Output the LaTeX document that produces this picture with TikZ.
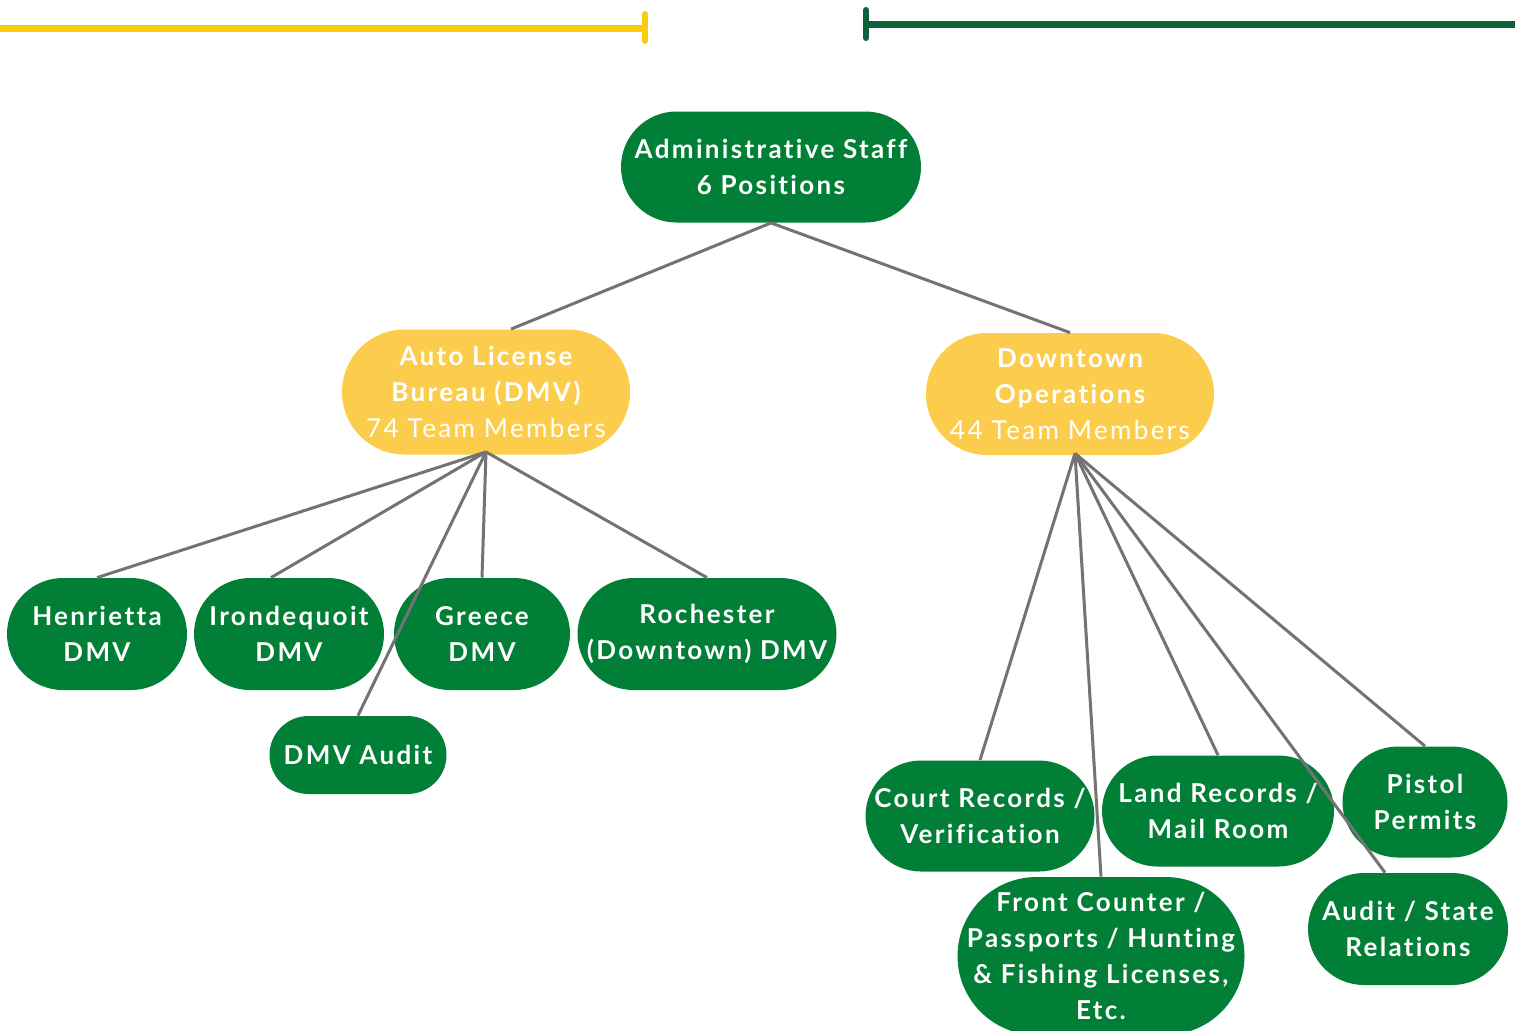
\documentclass[tikz,border=0pt]{standalone}
\usepackage{fontspec}
\setmainfont{Lato}[LetterSpace=9,Ligatures=NoCommon]
\usepackage{tikz}
\definecolor{pillgreen}{RGB}{1,127,55}
\definecolor{pillyellow}{RGB}{252,205,77}
\definecolor{baryellow}{RGB}{250,204,14}
\definecolor{bargreen}{RGB}{11,97,56}
\definecolor{linkgray}{RGB}{115,115,115}

\begin{document}
\begin{tikzpicture}[x=0.5pt,y=-0.5pt,
  every node/.style={text=white,inner sep=0pt,align=center,font=\bfseries\fontsize{13}{18}\selectfont},
  pill/.style 2 args={fill=pillgreen,minimum width=#1pt,minimum height=#2pt,rounded corners=0.5*#2pt},
  unit/.style 2 args={pill={#1}{#2},fill=pillyellow},
  link/.style={draw=linkgray,line width=1.5pt}]
    \useasboundingbox (0,0) rectangle (1515,1030);
    % top bars
    \draw[baryellow,line width=3.5pt] (0,28) -- (645,28);
    \draw[baryellow,line width=3pt,line cap=round] (645,14) -- (645,41);
    \draw[bargreen,line width=3.5pt] (866,24) -- (1515,24);
    \draw[bargreen,line width=3pt,line cap=round] (866,10) -- (866,38);
    % nodes
    \node[pill={150}{55.5}] (admin) at (771,167) {Administrative Staff\\6 Positions};
    \node[unit={144}{62.5}] (dmv) at (486,392) {Auto License\\Bureau (DMV)\\\mdseries 74 Team Members};
    \node[unit={144}{61}] (downtown) at (1070,394) {Downtown\\Operations\\\mdseries 44 Team Members};
    \node[pill={90}{56}] (henrietta) at (97,634) {Henrietta\\DMV};
    \node[pill={95}{56}] (irondequoit) at (289,634) {Irondequoit\\DMV};
    \node[pill={88}{56}] (greece) at (482,634) {Greece\\DMV};
    \node[pill={129.5}{56}] (rochester) at (707,634) {Rochester\\(Downtown) DMV};
    \node[pill={88.5}{39}] (dmvaudit) at (358,755) {DMV Audit};
    \node[pill={114.5}{55.5}] (court) at (980,816) {Court Records /\\Verification};
    \node[pill={116}{55.5}] (land) at (1218,811) {Land Records /\\Mail Room};
    \node[pill={82.5}{55.5}] (pistol) at (1425,802) {Pistol\\Permits};
    \node[pill={143.5}{79}] (front) at (1101,956) {Front Counter /\\Passports / Hunting\\\& Fishing Licenses,\\Etc.};
    \node[pill={100}{56}] (auditstate) at (1408,929) {Audit / State\\Relations};
    % links
    \draw[link] (admin.south) -- ([xshift=12.5pt]dmv.north);
    \draw[link] (admin.south) -- (downtown.north);
    \draw[link] ([yshift=1.5pt]dmv.south) -- (henrietta.north);
    \draw[link] ([yshift=1.5pt]dmv.south) -- ([xshift=-9pt]irondequoit.north);
    \draw[link] ([yshift=1.5pt]dmv.south) -- (greece.north);
    \draw[link] ([yshift=1.5pt]dmv.south) -- (rochester.north);
    \draw[link] ([yshift=1.5pt]dmv.south) -- (dmvaudit.north);
    \draw[link] ([xshift=2.5pt,yshift=1pt]downtown.south) -- (court.north);
    \draw[link] ([xshift=2.5pt,yshift=1pt]downtown.south) -- (front.north);
    \draw[link] ([xshift=2.5pt,yshift=1pt]downtown.south) -- (land.north);
    \draw[link] ([xshift=2.5pt,yshift=1pt]downtown.south) -- (pistol.north);
    \draw[link] ([xshift=2.5pt,yshift=1pt]downtown.south) -- ([xshift=-11.5pt]auditstate.north);
  \end{tikzpicture}
\end{document}
